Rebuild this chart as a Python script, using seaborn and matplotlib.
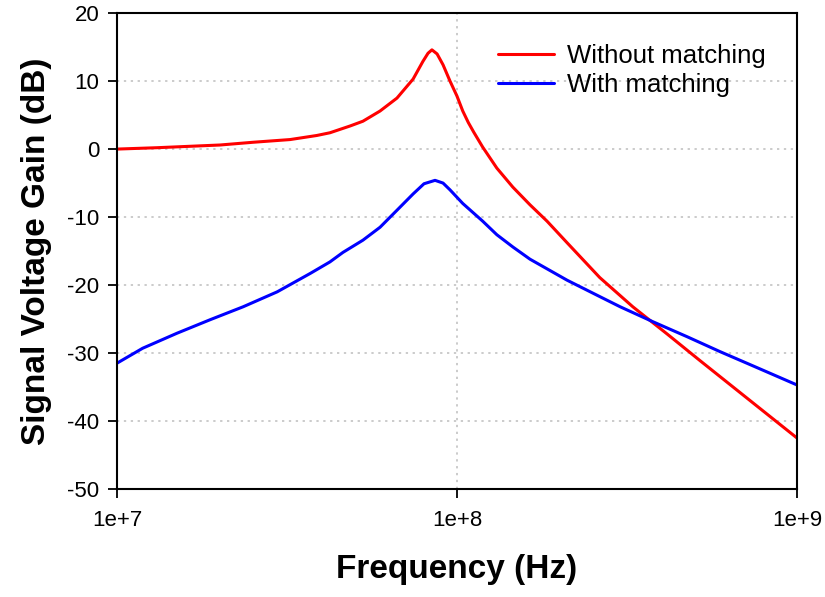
import matplotlib
matplotlib.use("Agg")
import matplotlib.pyplot as plt
import matplotlib.ticker as mticker
import seaborn as sns

# Frequency points (Hz) and gain (dB)
freq_without = [1.0e7, 1.31e7, 2.01e7, 2.51e7, 3.23e7, 3.87e7, 4.23e7, 4.85e7,
                5.29e7, 5.94e7, 6.66e7, 7.43e7, 7.94e7, 8.22e7, 8.44e7, 8.74e7,
                9.10e7, 9.54e7, 1.0e8, 1.04e8, 1.08e8, 1.12e8, 1.19e8, 1.31e8,
                1.46e8, 1.64e8, 1.84e8, 2.11e8, 2.63e8, 3.29e8, 4.15e8, 5.18e8,
                7.28e8, 1.0e9]
gain_without = [0.0, 0.2, 0.6, 1.0, 1.4, 2.0, 2.4, 3.4,
                4.1, 5.6, 7.5, 10.3, 12.9, 14.1, 14.6, 14.0,
                12.4, 10.0, 7.8, 5.6, 3.9, 2.5, 0.3, -2.8,
                -5.6, -8.2, -10.6, -13.8, -18.9, -23.2, -27.2, -31.1,
                -37.0, -42.5]

freq_with = [1.0e7, 1.19e7, 1.50e7, 1.88e7, 2.35e7, 2.96e7, 3.70e7, 4.23e7,
             4.62e7, 5.29e7, 5.94e7, 6.66e7, 7.43e7, 8.0e7, 8.62e7, 9.10e7,
             9.54e7, 1.04e8, 1.19e8, 1.31e8, 1.46e8, 1.64e8, 2.11e8, 2.63e8,
             3.02e8, 3.77e8, 4.75e8, 5.94e8, 7.43e8, 1.0e9]
gain_with = [-31.5, -29.3, -27.1, -25.1, -23.2, -21.0, -18.3, -16.6,
             -15.2, -13.4, -11.5, -9.0, -6.6, -5.1, -4.6, -5.0,
             -6.0, -8.0, -10.6, -12.6, -14.4, -16.2, -19.3, -21.7,
             -23.2, -25.4, -27.6, -29.8, -31.9, -34.7]

series_labels = ["Without matching", "With matching"]
x_ticks = [1e7, 1e8, 1e9]
x_tick_labels = ["1e+7", "1e+8", "1e+9"]
y_ticks = [-50, -40, -30, -20, -10, 0, 10, 20]

sns.set_theme(style="white")
plt.rcParams["font.family"] = ["Liberation Sans", "DejaVu Sans"]
plt.rcParams["axes.unicode_minus"] = False

fig = plt.figure(figsize=(8.25, 5.97), dpi=100)
ax = fig.add_axes([0.1418, 0.181, 0.8242, 0.797])

sns.lineplot(x=freq_without, y=gain_without, color="#ff0000", linewidth=2.2,
             label=series_labels[0], sort=False, estimator=None, ax=ax)
sns.lineplot(x=freq_with, y=gain_with, color="#0000ff", linewidth=2.2,
             label=series_labels[1], sort=False, estimator=None, ax=ax)

ax.set_xscale("log")
ax.set_xlim(1e7, 1e9)
ax.set_ylim(-50, 20)
ax.set_xticks(x_ticks)
ax.set_xticklabels(x_tick_labels)
ax.xaxis.set_minor_locator(mticker.NullLocator())
ax.set_yticks(y_ticks)

# dotted grey grid
ax.set_axisbelow(True)
ax.grid(True, which="major", color="#bdbdbd", linewidth=1.1,
        linestyle=(0, (1.5, 3)))

for sp in ax.spines.values():
    sp.set_color("black")
    sp.set_linewidth(1.5)

ax.tick_params(axis="both", which="major", direction="out", length=6.5,
               width=1.3, color="black", labelsize=16, labelcolor="black",
               bottom=True, left=True, top=False, right=False)
ax.tick_params(axis="y", pad=6)
ax.tick_params(axis="x", pad=9)

ax.set_xlabel("Frequency (Hz)", fontsize=24, fontweight="bold", labelpad=16,
              color="black")
ax.set_ylabel("Signal Voltage Gain (dB)", fontsize=24, fontweight="bold",
              labelpad=11, color="black")

leg = ax.legend(loc="upper left", bbox_to_anchor=(0.56, 0.936), frameon=False,
                fontsize=18.5, handlelength=2.2, handletextpad=0.5,
                labelspacing=0.22, borderpad=0, borderaxespad=0)
for t in leg.get_texts():
    t.set_color("black")

fig.savefig("out.png", dpi=100)
